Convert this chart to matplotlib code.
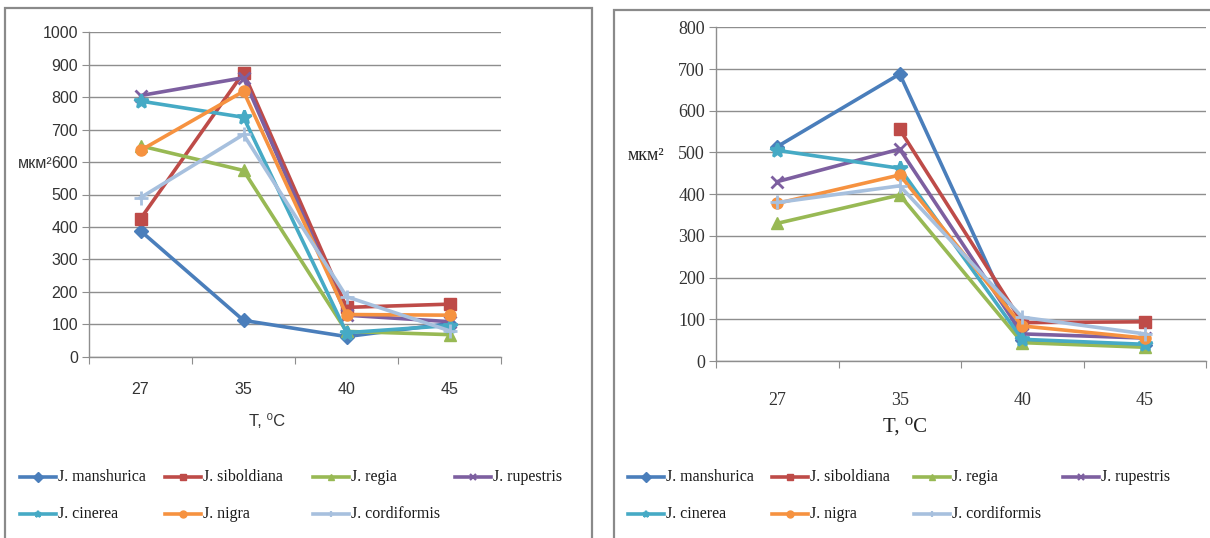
import numpy as np
import matplotlib
matplotlib.use("Agg")
import matplotlib.pyplot as plt
from matplotlib.lines import Line2D
from matplotlib.patches import Rectangle

temps = ["27", "35", "40", "45"]
species = ["J. manshurica", "J. siboldiana", "J. regia", "J. rupestris",
           "J. cinerea", "J. nigra", "J. cordiformis"]

# left panel values (мкм²)
left_manshurica = [388, 112, 62, 102]
left_siboldiana = [425, 876, 152, 162]
left_regia = [650, 574, 78, 68]
left_rupestris = [805, 860, 128, 108]
left_cinerea = [788, 738, 74, 96]
left_nigra = [636, 818, 130, 128]
left_cordiformis = [490, 685, 185, 80]

# right panel values (мкм²)
right_manshurica = [514, 688, 50, 38]
right_siboldiana = [np.nan, 555, 92, 94]
right_regia = [330, 398, 44, 33]
right_rupestris = [430, 508, 65, 55]
right_cinerea = [505, 462, 52, 40]
right_nigra = [378, 446, 84, 55]
right_cordiformis = [380, 420, 105, 65]

left_series = [left_manshurica, left_siboldiana, left_regia, left_rupestris,
               left_cinerea, left_nigra, left_cordiformis]
right_series = [right_manshurica, right_siboldiana, right_regia, right_rupestris,
                right_cinerea, right_nigra, right_cordiformis]

colors = ["#4A7EBB", "#BE4B48", "#98B954", "#7D5FA0", "#46AAC5", "#F69240", "#A7C0DE"]
markers = ["D", "s", "^", "x", "*", "o", "+"]
msizes = [7, 8, 8, 9, 10, 8, 10]

W, H = 1210, 538
fig = plt.figure(figsize=(W / 100, H / 100), dpi=100)
fig.patch.set_facecolor("white")

def fx(px):
    return px / W

def fy(py):
    return 1 - py / H

grid_c = "#8E8E8E"
sans = ["Liberation Sans Narrow", "Liberation Sans", "DejaVu Sans"]
serif = ["Liberation Serif", "DejaVu Serif"]

def setup_axes(ax, ymax, fam, fsize, tick_pad):
    ax.set_xlim(0, 4)
    ax.set_ylim(0, ymax)
    ax.set_yticks(np.arange(0, ymax + 1, 100))
    ax.set_yticklabels([str(v) for v in range(0, ymax + 1, 100)],
                       family=fam, fontsize=fsize, color="#333333")
    ax.set_xticks(np.arange(0, 5))
    ax.set_xticklabels([])
    ax.set_xticks(np.arange(len(temps)) + 0.5, minor=True)
    ax.set_xticklabels(temps, minor=True, family=fam, fontsize=fsize, color="#333333")
    ax.tick_params(axis="x", which="minor", length=0, pad=tick_pad)
    ax.tick_params(axis="x", which="major", length=5, color=grid_c, direction="out")
    ax.tick_params(axis="y", length=5, color=grid_c, direction="out", pad=3)
    for s in ["top", "right"]:
        ax.spines[s].set_visible(False)
    for s in ["left", "bottom"]:
        ax.spines[s].set_color(grid_c)
        ax.spines[s].set_linewidth(1.0)
    ax.yaxis.grid(True, color=grid_c, linewidth=1.0)
    ax.set_axisbelow(True)
    ax.set_facecolor("white")

def plot_series(ax, series):
    x = np.arange(len(temps)) + 0.5
    for vals, c, m, ms in zip(series, colors, markers, msizes):
        mew = 2.0 if m in ("x", "+", "*") else 1.0
        ax.plot(x, vals, color=c, linewidth=2.6, marker=m, markersize=ms,
                markeredgewidth=mew, markeredgecolor=c, markerfacecolor=c,
                clip_on=False, zorder=3)

# ---------- left panel ----------
axL = fig.add_axes([fx(89), fy(356.7), fx(501 - 89), (356.7 - 32.3) / H])
setup_axes(axL, 1000, sans, 11.5, 18)
plot_series(axL, left_series)
fig.text(fx(18), fy(164), "мкм²", family=sans, fontsize=11.5, color="#333333",
         ha="left", va="center")
fig.text(fx(267), fy(421), "T, ⁰C", family=sans, fontsize=12, color="#333333",
         ha="center", va="center")

# ---------- right panel ----------
axR = fig.add_axes([fx(716), fy(361), fx(1206 - 716), (361 - 27.3) / H])
setup_axes(axR, 800, serif, 13, 22)
plot_series(axR, right_series)
fig.text(fx(628), fy(155), "мкм²", family=serif, fontsize=13, color="#222222",
         ha="left", va="center")
fig.text(fx(905), fy(427), "T, ⁰C", family=serif, fontsize=15, color="#222222",
         ha="center", va="center")

# ---------- panel frames ----------
fig.add_artist(Rectangle((fx(5), fy(545)), fx(592 - 5), (545 - 8) / H,
                         transform=fig.transFigure, fill=False,
                         edgecolor="#8A8A8A", linewidth=1.6, clip_on=False))
fig.add_artist(Rectangle((fx(614), fy(545)), fx(1220 - 614), (545 - 10) / H,
                         transform=fig.transFigure, fill=False,
                         edgecolor="#8A8A8A", linewidth=1.6, clip_on=False))

# ---------- legends ----------
def legend_entry(x0, y0, idx, length=36):
    c, m = colors[idx], markers[idx]
    fig.add_artist(Line2D([fx(x0), fx(x0 + length)], [fy(y0), fy(y0)],
                          transform=fig.transFigure, color=c, linewidth=2.6))
    mew = 1.6 if m in ("x", "+", "*") else 1.0
    fig.add_artist(Line2D([fx(x0 + length / 2)], [fy(y0)], transform=fig.transFigure,
                          color=c, marker=m, markersize=5, markeredgewidth=mew,
                          markeredgecolor=c, markerfacecolor=c, linestyle="none"))
    fig.text(fx(x0 + length + 2), fy(y0), species[idx], family=serif, fontsize=11.5,
             color="#1a1a1a", ha="left", va="center")

left_cols = [20, 165, 313, 455]
right_cols = [628, 772, 914, 1063]
rows = [477, 514]
for i in range(7):
    r, c = divmod(i, 4)
    legend_entry(left_cols[c], rows[r], i)
    legend_entry(right_cols[c], rows[r], i)

fig.savefig("out.png", dpi=100, facecolor="white")
